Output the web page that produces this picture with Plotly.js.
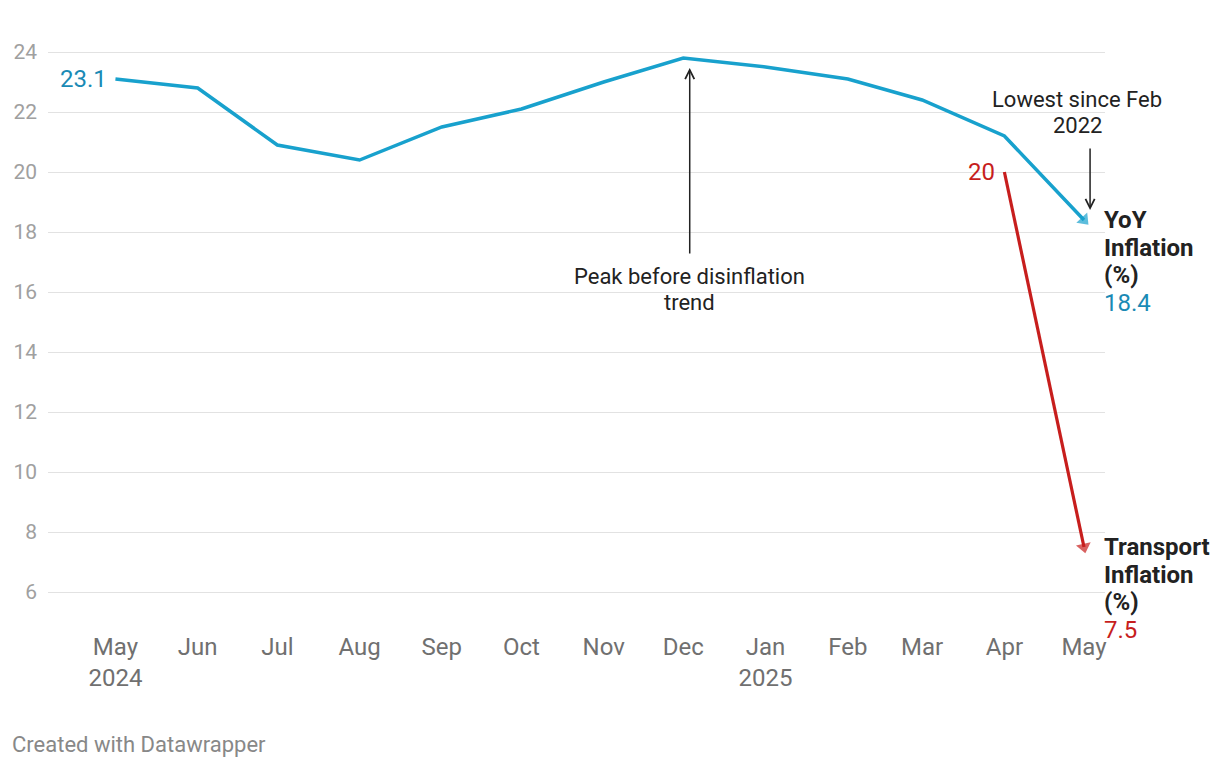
<!DOCTYPE html>
<html>
<head>
<meta charset="utf-8">
<script src="https://cdn.plot.ly/plotly-3.0.1.min.js"></script>
<style>
html,body{margin:0;padding:0;background:#fff;}
#chart{width:1220px;height:768px;}
</style>
</head>
<body>
<div id="chart"></div>
<script>
const months = ["2024-05-01","2024-06-01","2024-07-01","2024-08-01","2024-09-01","2024-10-01","2024-11-01","2024-12-01","2025-01-01","2025-02-01","2025-03-01","2025-04-01","2025-05-01"];
const tickLabels = ["May<br>2024","Jun","Jul","Aug","Sep","Oct","Nov","Dec","Jan<br>2025","Feb","Mar","Apr","May"];
const yoyInflation = [23.1, 22.8, 20.9, 20.4, 21.5, 22.1, 23.0, 23.8, 23.5, 23.1, 22.4, 21.2, 18.4];
const transportMonths = ["2025-04-01", "2025-05-01"];
const transportInflation = [20, 7.5];
const yTicks = [6, 8, 10, 12, 14, 16, 18, 20, 22, 24];
const yoyLabel = ["YoY", "Inflation", "(%)"];
const transportLabel = ["Transport", "Inflation", "(%)"];
const peakNote = ["Peak before disinflation", "trend"];
const lowNote = ["Lowest since Feb", "2022"];

const blue = "#18a1cd";
const blueText = "#1a8ab5";
const red = "#c71e1d";
const last = yoyInflation.length - 1;

const endMarker = (n) => ({
  size: Array.from({length: n}, (v, i) => i === n - 1 ? 13 : 0),
  symbol: Array.from({length: n}, (v, i) => i === n - 1 ? "triangle-up" : "circle")
});
const mb = endMarker(yoyInflation.length);
const mr = endMarker(transportInflation.length);

const traces = [
  {
    x: months, y: yoyInflation, type: "scatter", mode: "lines+markers",
    line: {color: blue, width: 3.5},
    marker: {color: blue, size: mb.size, symbol: mb.symbol, angleref: "previous", line: {width: 0}},
    hoverinfo: "skip"
  },
  {
    x: transportMonths, y: transportInflation, type: "scatter", mode: "lines+markers",
    line: {color: red, width: 3.2},
    marker: {color: red, size: mr.size, symbol: mr.symbol, angleref: "previous", line: {width: 0}},
    hoverinfo: "skip"
  }
];

const annotations = [];
function block(lines, opts, spacing) {
  lines.forEach((t, i) => {
    annotations.push(Object.assign({}, opts, {text: t, showarrow: false, yshift: (opts.yshift || 0) - i * spacing,
      yanchor: "middle", font: Object.assign({}, opts.font)}));
  });
}

annotations.push({x: months[0], y: yoyInflation[0], xref: "x", yref: "y", text: String(yoyInflation[0]), showarrow: false,
  xanchor: "right", xshift: -6, font: {family: "Roboto", size: 24, color: blueText}});
annotations.push({x: transportMonths[0], y: transportInflation[0], xref: "x", yref: "y", text: String(transportInflation[0]), showarrow: false,
  xanchor: "right", xshift: -7, font: {family: "Roboto", size: 24, color: red}});

const endOpts = {x: 1, xref: "paper", yref: "y", xanchor: "left", align: "left", xshift: -3,
  font: {family: "Roboto", size: 24, color: "#222"}};
block(yoyLabel.map(s => "<b>" + s + "</b>").concat(["<span style='color:" + blueText + "'>" + yoyInflation[last] + "</span>"]),
  Object.assign({}, endOpts, {y: yoyInflation[last]}), 27.7);
block(transportLabel.map(s => "<b>" + s + "</b>").concat(["<span style='color:" + red + "'>" + transportInflation[1] + "</span>"]),
  Object.assign({}, endOpts, {y: transportInflation[1]}), 27.7);

// Peak arrow
annotations.push({x: "2024-12-03 10:00", y: 23.47, xref: "x", yref: "y", ax: "2024-12-03 10:00", ay: 17.23, axref: "x", ayref: "y",
  text: "", showarrow: true, arrowhead: 5, arrowsize: 1.2, arrowwidth: 1.5, arrowcolor: "#222"});
block(peakNote, {x: "2024-12-03 10:00", y: 16.53, xref: "x", yref: "y", xanchor: "center", align: "center",
  font: {family: "Roboto", size: 22, color: "#222"}}, 26);
// Lowest arrow
annotations.push({x: "2025-05-03 07:00", y: 18.73, xref: "x", yref: "y", ax: "2025-05-03 07:00", ay: 20.83, axref: "x", ayref: "y",
  text: "", showarrow: true, arrowhead: 5, arrowsize: 1.2, arrowwidth: 1.5, arrowcolor: "#222"});
block(lowNote, {x: "2025-04-28 10:00", y: 22.43, xref: "x", yref: "y", xanchor: "center", align: "center",
  font: {family: "Roboto", size: 22, color: "#222"}}, 26);

// footer
annotations.push({x: -0.036, y: -0.21, xref: "paper", yref: "paper", xanchor: "left", yanchor: "middle", showarrow: false,
  text: "Created with Datawrapper", font: {family: "Roboto", size: 22, color: "#888"}});

const layout = {
  width: 1220, height: 768,
  margin: {l: 48, r: 115, t: 37, b: 146},
  paper_bgcolor: "#fff", plot_bgcolor: "#fff",
  showlegend: false,
  font: {family: "Roboto"},
  xaxis: {
    type: "date",
    range: ["2024-04-05 14:00", "2025-05-08 22:00"], tickvals: months, ticktext: tickLabels,
    showgrid: false, zeroline: false, showline: false,
    ticks: "outside", ticklen: 3, tickcolor: "rgba(0,0,0,0)",
    tickfont: {family: "Roboto", size: 24, color: "#707070"}
  },
  yaxis: {
    range: [5, 24.5], tickvals: yTicks, ticktext: yTicks.map(String),
    showgrid: true, gridcolor: "#e2e2e2", gridwidth: 1, zeroline: false, showline: false,
    ticks: "", ticklabelstandoff: 10,
    tickfont: {family: "Roboto", size: 21, color: "#a0a0a0"}
  },
  annotations: annotations
};

Plotly.newPlot("chart", traces, layout, {staticPlot: true, displayModeBar: false});
</script>
</body>
</html>
